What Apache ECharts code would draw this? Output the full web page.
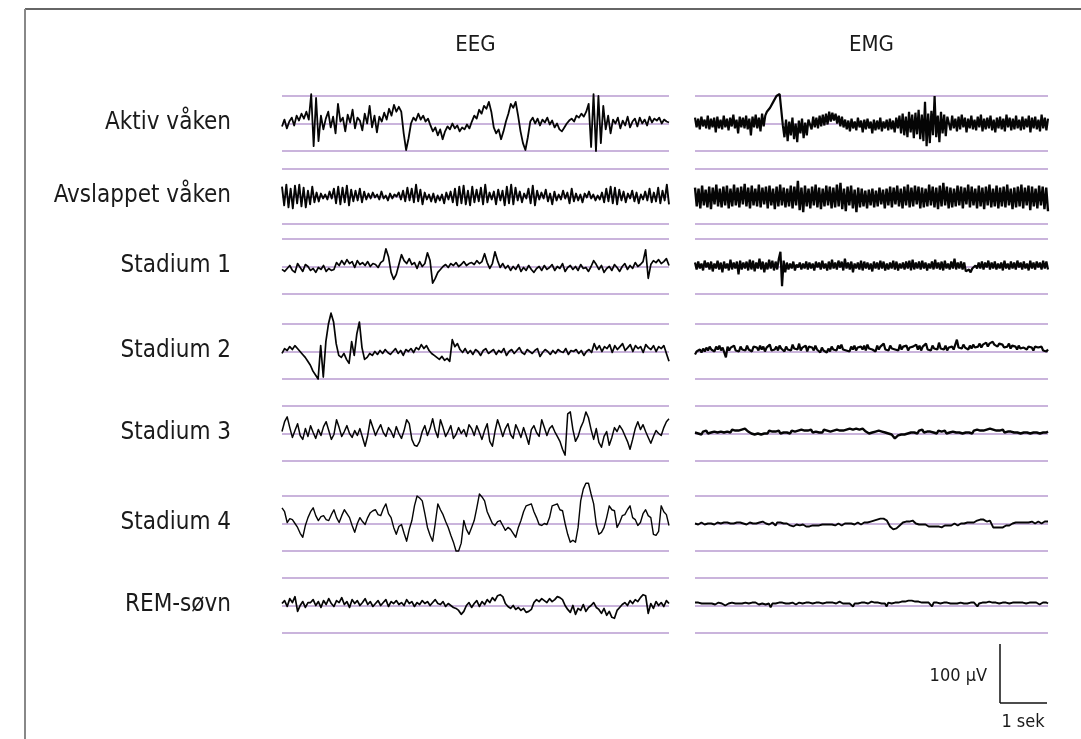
<!DOCTYPE html>
<html><head><meta charset="utf-8">
<script src="https://cdn.jsdelivr.net/npm/echarts@6/dist/echarts.min.js"></script>
<style>html,body{margin:0;padding:0;background:#fff}#c{width:1081px;height:739px}</style>
</head><body><div id="c"></div>
<script>
// ---- DATA (values in µV-like units; ±28 = outer guide lines) ----
const stages = ['Aktiv våken','Avslappet våken','Stadium 1','Stadium 2','Stadium 3','Stadium 4','REM-søvn'];
const channels = ['EEG','EMG'];
const scaleLabels = ['100 µV','1 sek'];

const eegAktiv = [-3,4,-5,2,6,-2,8,3,10,5,12,4,30,-23,26,-18,8,-6,5,12,-4,7,-10,20,2,6,-8,9,1,14,-5,6,3,-7,10,0,18,-4,8,-9,7,2,11,4,15,8,19,12,17,12,-10,-27,-15,0,6,3,10,4,8,2,5,-2,-8,-4,-12,-6,-16,-8,-3,-6,0,-5,-2,-8,-4,-6,-1,-5,2,8,5,14,10,18,15,22,12,-4,-10,-6,-16,-8,2,10,20,16,22,8,-8,-20,-27,-14,2,6,0,5,-2,4,1,6,-1,3,-4,0,-6,-8,-4,0,3,5,2,8,6,10,7,12,20,-24,30,-28,28,-20,18,-6,8,-10,4,0,6,-5,3,-2,7,-4,2,5,-3,6,0,4,-2,7,1,5,3,6,0,4,2,1];
const eegAvslappet = [10,-9,12,-11,8,-12,11,-7,12,-10,9,-11,6,-8,10,-6,4,-5,3,-2,2,-3,5,-2,8,-7,10,-8,9,-6,11,-9,7,-5,6,-4,8,-6,5,-3,3,-2,4,-1,2,-3,5,-2,1,-4,3,-2,2,0,4,-3,6,-5,9,-4,8,-6,12,-5,7,-8,4,-3,2,-5,3,-6,1,-4,2,-7,4,-3,5,-6,8,-9,10,-7,11,-8,6,-9,10,-6,7,-5,9,-8,12,-6,4,-3,5,-8,7,-4,6,-9,10,-7,12,-8,9,-4,5,-6,3,-2,8,-7,11,-9,6,-3,4,-2,7,-5,3,-8,5,-4,2,-3,6,-2,4,-7,8,-5,3,-4,2,-6,3,-1,5,-2,2,-4,1,-3,4,-6,8,-5,10,-7,9,-8,7,-4,5,-6,3,-2,6,-5,4,-7,2,-3,5,-4,8,-6,4,-5,9,-7,6,-4,12,-8];
const eegStadium1 = [-3,-5,-2,1,-4,-6,3,-1,-5,2,0,-4,-2,-6,-1,-3,1,-5,-2,-4,-3,4,1,6,2,7,3,5,-1,6,2,4,1,5,0,3,2,-1,4,6,18,10,-6,-13,-8,2,12,6,3,8,2,4,-2,5,0,3,14,6,-17,-12,-6,-3,0,2,-1,3,1,4,0,2,5,1,3,4,2,6,3,5,13,4,-2,3,15,6,-1,3,-2,1,-4,0,-3,2,-5,-1,-4,1,-3,-6,-2,0,-4,1,-3,-1,2,-4,0,-2,3,-5,-1,1,-3,0,-4,2,-2,-1,-5,0,6,2,-3,1,-6,-2,0,-4,2,-1,-5,0,3,-3,1,-2,4,0,2,5,17,-12,2,6,4,7,3,5,8,1];
const eegStadium2 = [-2,3,1,5,2,6,3,0,-3,-6,-10,-14,-20,-24,-28,6,-26,10,28,39,30,8,-4,-6,-2,-8,-12,10,-4,18,30,4,-8,-6,-2,-4,0,-3,1,-2,2,-1,-3,0,3,-2,1,-4,2,0,3,-1,4,2,7,3,6,1,-2,-4,-6,-8,-5,-9,-7,-10,12,5,8,2,-1,3,-2,1,-3,2,0,-4,1,3,-2,0,2,-3,1,-1,3,-4,0,2,-2,1,4,-1,-3,2,0,-2,1,3,-5,-1,2,0,-3,1,-2,2,0,-1,3,-3,1,0,2,-2,1,-4,0,2,-1,8,2,6,0,5,3,7,-1,6,2,5,8,1,4,7,0,6,3,5,-1,7,4,2,6,0,5,3,6,-2,-10];
const eegStadium3 = [2,12,17,6,-4,3,10,-2,-6,5,-3,8,1,-5,4,-2,7,12,3,-6,-1,14,6,-3,2,8,0,-4,3,-2,5,-4,-13,-2,14,6,-2,4,9,1,-3,6,2,-4,7,0,-5,3,14,10,-6,-12,-13,-8,2,8,-2,5,15,3,-4,14,6,-3,2,8,-5,-1,6,0,4,-3,9,5,-2,8,1,-6,3,10,-8,-13,2,14,6,-3,5,10,-1,-5,9,3,-4,6,-2,-11,4,8,1,-3,14,6,-2,5,8,2,-3,-8,-16,-22,20,22,4,-8,-3,6,12,22,16,4,-6,5,-9,-14,-3,2,-12,-4,6,2,8,4,-2,-8,-16,-6,5,12,4,9,2,-4,-10,-3,3,0,-2,6,12,15];
const eegStadium4 = [16,12,1,5,4,0,-4,-10,-14,-2,6,12,16,8,3,7,8,4,3,9,14,6,1,8,14,10,6,-2,-9,0,6,2,-1,6,11,13,14,9,8,15,20,10,6,-4,-11,-3,-1,-10,-18,-6,3,18,28,26,23,10,-4,-12,-18,0,20,14,9,2,-4,-12,-19,-28,-28,-20,3,-6,-11,-4,3,16,30,27,23,12,6,0,-2,2,3,-2,-7,-4,-6,-10,-14,-4,3,12,18,19,20,12,6,-1,-2,0,-1,6,18,19,20,14,13,0,-11,-19,-17,-19,-4,23,35,41,41,30,20,-1,-11,-9,-4,6,18,14,13,-4,1,8,9,14,18,6,4,-2,1,10,14,8,6,-11,-12,-8,18,12,9,-2];
const eegRem = [2,5,-1,7,3,9,-6,0,4,-2,3,3,6,0,4,-2,5,1,7,2,-1,5,3,8,1,4,-2,6,2,5,0,3,7,1,4,-1,2,5,0,3,6,-1,4,2,5,1,3,0,6,2,4,-1,3,1,5,2,4,0,3,6,2,1,4,-1,2,0,-2,-3,-5,-9,-6,0,3,-2,2,5,-1,4,1,6,3,8,5,10,11,9,2,-1,-3,0,-4,-2,-5,-3,-7,-6,-4,3,6,4,7,5,3,7,4,6,9,8,6,0,-4,-7,0,-9,-3,-5,1,-6,-2,0,3,-2,-4,-8,-3,-10,-6,-12,-13,-5,-2,1,3,0,5,2,6,4,8,11,10,-8,2,-3,4,0,3,-1,5,2];

const emgAktiv = [6,-4,5,-6,7,-3,4,-5,8,-6,5,-4,6,-9,7,-5,4,-6,8,-4,5,-7,6,-3,9,-5,4,-10,7,-4,6,-5,8,-6,5,-12,7,-4,9,-5,6,-8,10,-3,8,12,10,16,15,22,20,28,26,30,29,-2,-14,4,-18,2,-12,6,-16,0,-19,3,-10,5,-15,1,-12,4,5,-6,7,-4,6,-5,8,-3,9,-2,10,-1,12,2,11,3,10,0,8,-3,7,-4,4,-6,3,-8,5,-5,2,-7,6,-4,3,-9,4,-6,5,-5,2,-10,4,-7,3,-6,6,-8,2,-5,4,-7,5,-6,3,-9,6,-5,8,-10,10,-12,7,-14,12,-9,9,-15,11,-11,14,-16,9,-18,22,-23,10,-20,13,-12,28,-14,8,-19,12,-10,9,-13,7,6,-7,8,-5,5,-8,7,-6,9,-4,6,-9,5,-5,8,-6,4,-7,7,-4,9,-8,5,-6,6,-5,8,-7,4,-9,6,-5,7,-6,5,-8,9,-4,6,-7,5,-6,8,-5,4,-7,7,-6,5,-4,8,-9,6,-5,7,-6,4,-8,9,-5,6,-7,5];
const emgAvslappet = [9,-10,8,-12,11,-9,7,-11,10,-13,9,-8,12,-10,8,-11,10,-9,11,-12,8,-10,12,-9,9,-11,10,-8,13,-10,9,-12,11,-9,8,-10,12,-11,9,-8,10,-12,11,-9,8,-13,10,-10,12,-9,9,-11,8,-10,11,-12,10,-9,16,-14,9,-16,11,-10,8,-12,10,-9,12,-11,9,-13,8,-10,11,-9,10,-12,9,-11,12,-10,14,-13,8,-15,10,-9,11,-12,7,-16,9,-11,8,-10,6,-12,7,-9,8,-11,6,-10,9,-8,7,-12,8,-9,10,-11,9,-8,11,-10,8,-12,10,-9,12,-11,9,-10,11,-8,10,-12,9,-11,8,-10,12,-9,10,-11,9,-13,11,-10,14,-9,10,-12,9,-11,8,-10,11,-9,10,-12,9,-8,12,-11,10,-9,8,-12,11,-10,9,-13,10,-9,12,-11,8,-10,11,-12,9,-10,10,-11,12,-9,8,-13,9,-11,10,-10,12,-12,9,-9,11,-14,10,-10,8,-12,11,-9,10,-13,9,-15];
const emgStadium1 = [4,-3,5,-2,3,-4,6,-1,4,-3,5,-5,3,-2,6,-3,4,-6,5,-2,3,-4,7,-3,4,-2,5,-8,6,-3,4,-2,5,-4,7,-3,6,-5,4,-2,8,-3,5,-6,4,-3,7,-2,6,-4,5,-3,8,15,-20,6,-6,4,-3,3,-2,5,-4,2,-1,4,-3,3,-2,5,-3,4,-2,3,-4,5,-1,4,-3,6,-2,3,-4,5,-3,7,-2,4,-3,6,-1,5,-4,8,-2,4,-3,5,-6,3,-2,4,-3,6,-4,5,-2,4,-3,3,-5,5,-2,4,-3,6,-2,5,-4,3,-3,4,-2,6,-3,5,-4,3,-2,4,-3,5,-2,6,-4,7,-3,4,-2,5,-3,6,-2,4,-4,3,-2,5,-3,7,-2,4,-3,5,-4,6,-2,3,-3,5,-2,8,-3,4,-2,5,-3,4,-5,-7,-3,-6,-2,-4,1,-2,4,-2,5,-3,4,-1,6,-3,4,-2,5,-3,3,-2,4,-4,6,-2,3,-3,5,-2,4,-3,6,-1,4,-3,5,-2,3,-4,6,-2,4,-3,5,-1,4,-3,6,-2,5,-3];
const emgStadium2 = [-3,0,-2,2,-1,3,0,4,1,5,2,4,0,5,2,6,1,4,3,-6,5,1,4,2,6,1,3,0,5,2,4,1,6,2,3,0,5,3,4,1,6,2,5,0,4,2,7,1,3,2,5,1,6,3,4,0,5,2,4,1,7,3,5,2,8,1,4,2,6,0,5,3,4,1,6,2,3,-1,4,1,2,-1,3,0,5,2,4,1,6,3,7,2,4,1,3,0,5,2,6,1,4,3,5,2,6,1,7,3,5,2,4,0,6,2,5,3,8,2,4,1,6,3,5,2,4,1,7,2,5,3,6,1,4,2,5,3,7,2,6,1,5,3,8,2,4,1,6,3,5,2,9,3,5,2,6,1,4,3,5,2,7,12,4,6,3,7,4,5,2,6,3,7,4,6,5,8,4,7,6,9,5,8,6,10,7,9,5,8,6,7,4,6,5,8,3,6,4,5,2,6,3,5,4,6,2,5,3,4,1,5,3,4,2,5,1,3,0,2];
const emgStadium3 = [1,3,0,2,-1,2,1,3,0,2,1,3,2,4,1,3,2,4,1,3,2,3,1,4,2,3,1,3,2,4,3,5,4,2,3,0,1,-1,1,0,2,-1,1,0,2,0,3,1,2,0,2,1,3,0,2,1,3,1,2,0,3,1,2,0,3,1,4,2,3,1,3,2,4,1,3,2,4,1,3,1,4,2,3,1,2,0,3,2,4,2,3,1,3,2,4,2,5,3,4,2,5,3,4,6,5,3,2,1,0,-1,1,0,2,1,3,1,2,0,1,-1,0,-2,-1,-3,-5,-4,-2,-3,-1,0,-1,1,0,2,1,3,1,2,0,3,2,4,1,3,2,4,2,3,1,2,0,3,1,2,1,3,0,2,1,3,2,4,1,3,1,2,0,2,1,3,1,2,0,3,2,4,2,3,1,3,2,4,3,5,3,4,2,3,1,3,2,4,1,3,2,4,2,3,1,2,1,3,0,2,1,3,1,2,0,2,1,3,1,2,0,2,1,3,1,2];
const emgStadium4 = [0,1,-1,0,1,0,-1,1,0,2,0,1,-1,0,1,-1,0,2,1,0,1,-1,0,1,0,2,1,0,1,2,0,1,-1,0,1,2,0,1,0,-1,1,0,2,1,0,1,-1,0,1,0,-2,1,0,1,-1,0,1,0,-1,-2,-1,-3,-2,-1,-3,-2,-3,-1,-2,-3,-2,-3,-1,-2,-3,-2,-1,-2,-3,-1,-2,-1,0,-1,-2,-1,0,-2,-1,0,-1,-2,-1,0,1,0,-1,0,1,-1,0,1,0,-1,0,1,2,1,0,2,1,3,2,4,3,5,4,5,4,3,1,-3,-5,-6,-4,-5,-3,-2,-1,1,0,2,3,2,1,3,2,0,1,-1,0,-1,-2,-1,-2,-3,-2,-3,-2,-3,-4,-3,-3,-4,-3,-2,-3,-2,-1,-2,-1,0,-1,-2,-1,0,1,0,-1,1,0,1,2,1,2,3,2,4,3,4,3,2,4,3,1,-4,-5,-4,-5,-4,-3,-4,-3,-2,-3,-2,-1,0,-1,1,0,1,2,1,0,1,2,1,0,2,1,0,1,2,1,0,1,2,1,2];
const emgRem = [3,2,3,2,2,3,2,1,2,3,2,2,1,2,3,2,2,1,0,1,2,2,3,2,2,3,2,1,2,2,3,3,2,2,3,2,3,2,1,2,2,1,1,2,2,-2,2,3,2,3,3,2,3,2,2,3,2,3,3,2,1,2,3,2,2,3,3,2,3,3,2,2,3,2,3,2,2,3,3,2,3,2,3,3,2,3,4,3,2,3,2,3,2,2,-1,2,3,2,3,3,2,3,2,2,3,4,3,3,2,3,3,2,3,2,-1,3,3,2,3,3,4,3,3,4,3,4,4,5,4,5,4,4,3,4,3,3,2,3,4,3,3,-1,3,2,3,3,2,3,3,2,3,3,2,3,2,3,2,2,3,3,2,3,2,3,3,2,3,3,-1,2,3,3,2,3,3,4,3,3,2,3,3,2,3,3,2,3,2,2,3,3,2,3,2,3,2,3,3,2,2,3,2,3,2,3,2,1,2,3,2,3,2];

const eegData = [eegAktiv, eegAvslappet, eegStadium1, eegStadium2, eegStadium3, eegStadium4, eegRem];
const emgData = [emgAktiv, emgAvslappet, emgStadium1, emgStadium2, emgStadium3, emgStadium4, emgRem];

// ---- LAYOUT / STYLE ----
const rowTops = [96, 169, 239, 324, 406, 496, 578];
const rowH = 55;
const panels = [{left: 282, width: 387}, {left: 695, width: 353}];
const eegWidths = [1.8, 1.9, 1.7, 1.7, 1.5, 1.4, 1.7];
const emgWidths = [2.2, 2.4, 2.2, 2.2, 2.4, 1.9, 1.9];
const guide = '#b99bd0';
const FONT = '"Liberation Sans Narrow", "DejaVu Sans Condensed", "Noto Sans", sans-serif';

const chart = echarts.init(document.getElementById('c'), null, {renderer: 'canvas'});
const grid = [], xAxis = [], yAxis = [], series = [];
let gi = 0;
for (let r = 0; r < stages.length; r++) {
  [eegData[r], emgData[r]].forEach((arr, p) => {
    grid.push({left: panels[p].left, width: panels[p].width, top: rowTops[r], height: rowH});
    xAxis.push({gridIndex: gi, type: 'value', min: 0, max: arr.length - 1, show: false});
    yAxis.push({gridIndex: gi, type: 'value', min: -28, max: 28, interval: 28,
      axisLine: {show: false}, axisTick: {show: false}, axisLabel: {show: false},
      splitLine: {show: true, lineStyle: {color: guide, width: 1.5}}});
    series.push({type: 'line', xAxisIndex: gi, yAxisIndex: gi, showSymbol: false, clip: false,
      data: arr.map((v, i) => [i, v]),
      lineStyle: {color: '#050505', width: p === 0 ? eegWidths[r] : emgWidths[r], join: p === 0 ? 'round' : 'bevel'}, z: 3, silent: true});
    gi++;
  });
}

const graphic = [
  {type: 'line', shape: {x1: 25, y1: 9, x2: 1081, y2: 9}, style: {stroke: '#333', lineWidth: 1.5}},
  {type: 'line', shape: {x1: 25, y1: 9, x2: 25, y2: 739}, style: {stroke: '#888', lineWidth: 2}},
  {type: 'line', shape: {x1: 1000, y1: 644, x2: 1000, y2: 703}, style: {stroke: '#111', lineWidth: 1.5}},
  {type: 'line', shape: {x1: 1000, y1: 703, x2: 1047, y2: 703}, style: {stroke: '#111', lineWidth: 1.5}},
  {type: 'text', x: 987, y: 676, style: {text: scaleLabels[0], font: '18px ' + FONT, fill: '#1a1a1a', textAlign: 'right', textVerticalAlign: 'middle'}},
  {type: 'text', x: 1023, y: 722, style: {text: scaleLabels[1], font: '18px ' + FONT, fill: '#1a1a1a', textAlign: 'center', textVerticalAlign: 'middle'}}
];
channels.forEach((c, p) => {
  graphic.push({type: 'text', x: panels[p].left + panels[p].width / 2, y: 45,
    style: {text: c, font: '22px ' + FONT, fill: '#1a1a1a', textAlign: 'center', textVerticalAlign: 'middle'}});
});
stages.forEach((s, r) => {
  graphic.push({type: 'text', x: 231, y: rowTops[r] + rowH / 2 - 1,
    style: {text: s, font: '24px ' + FONT, fill: '#1a1a1a', textAlign: 'right', textVerticalAlign: 'middle'}});
});

chart.setOption({animation: false, backgroundColor: '#fff', grid, xAxis, yAxis, series, graphic});
</script></body></html>
